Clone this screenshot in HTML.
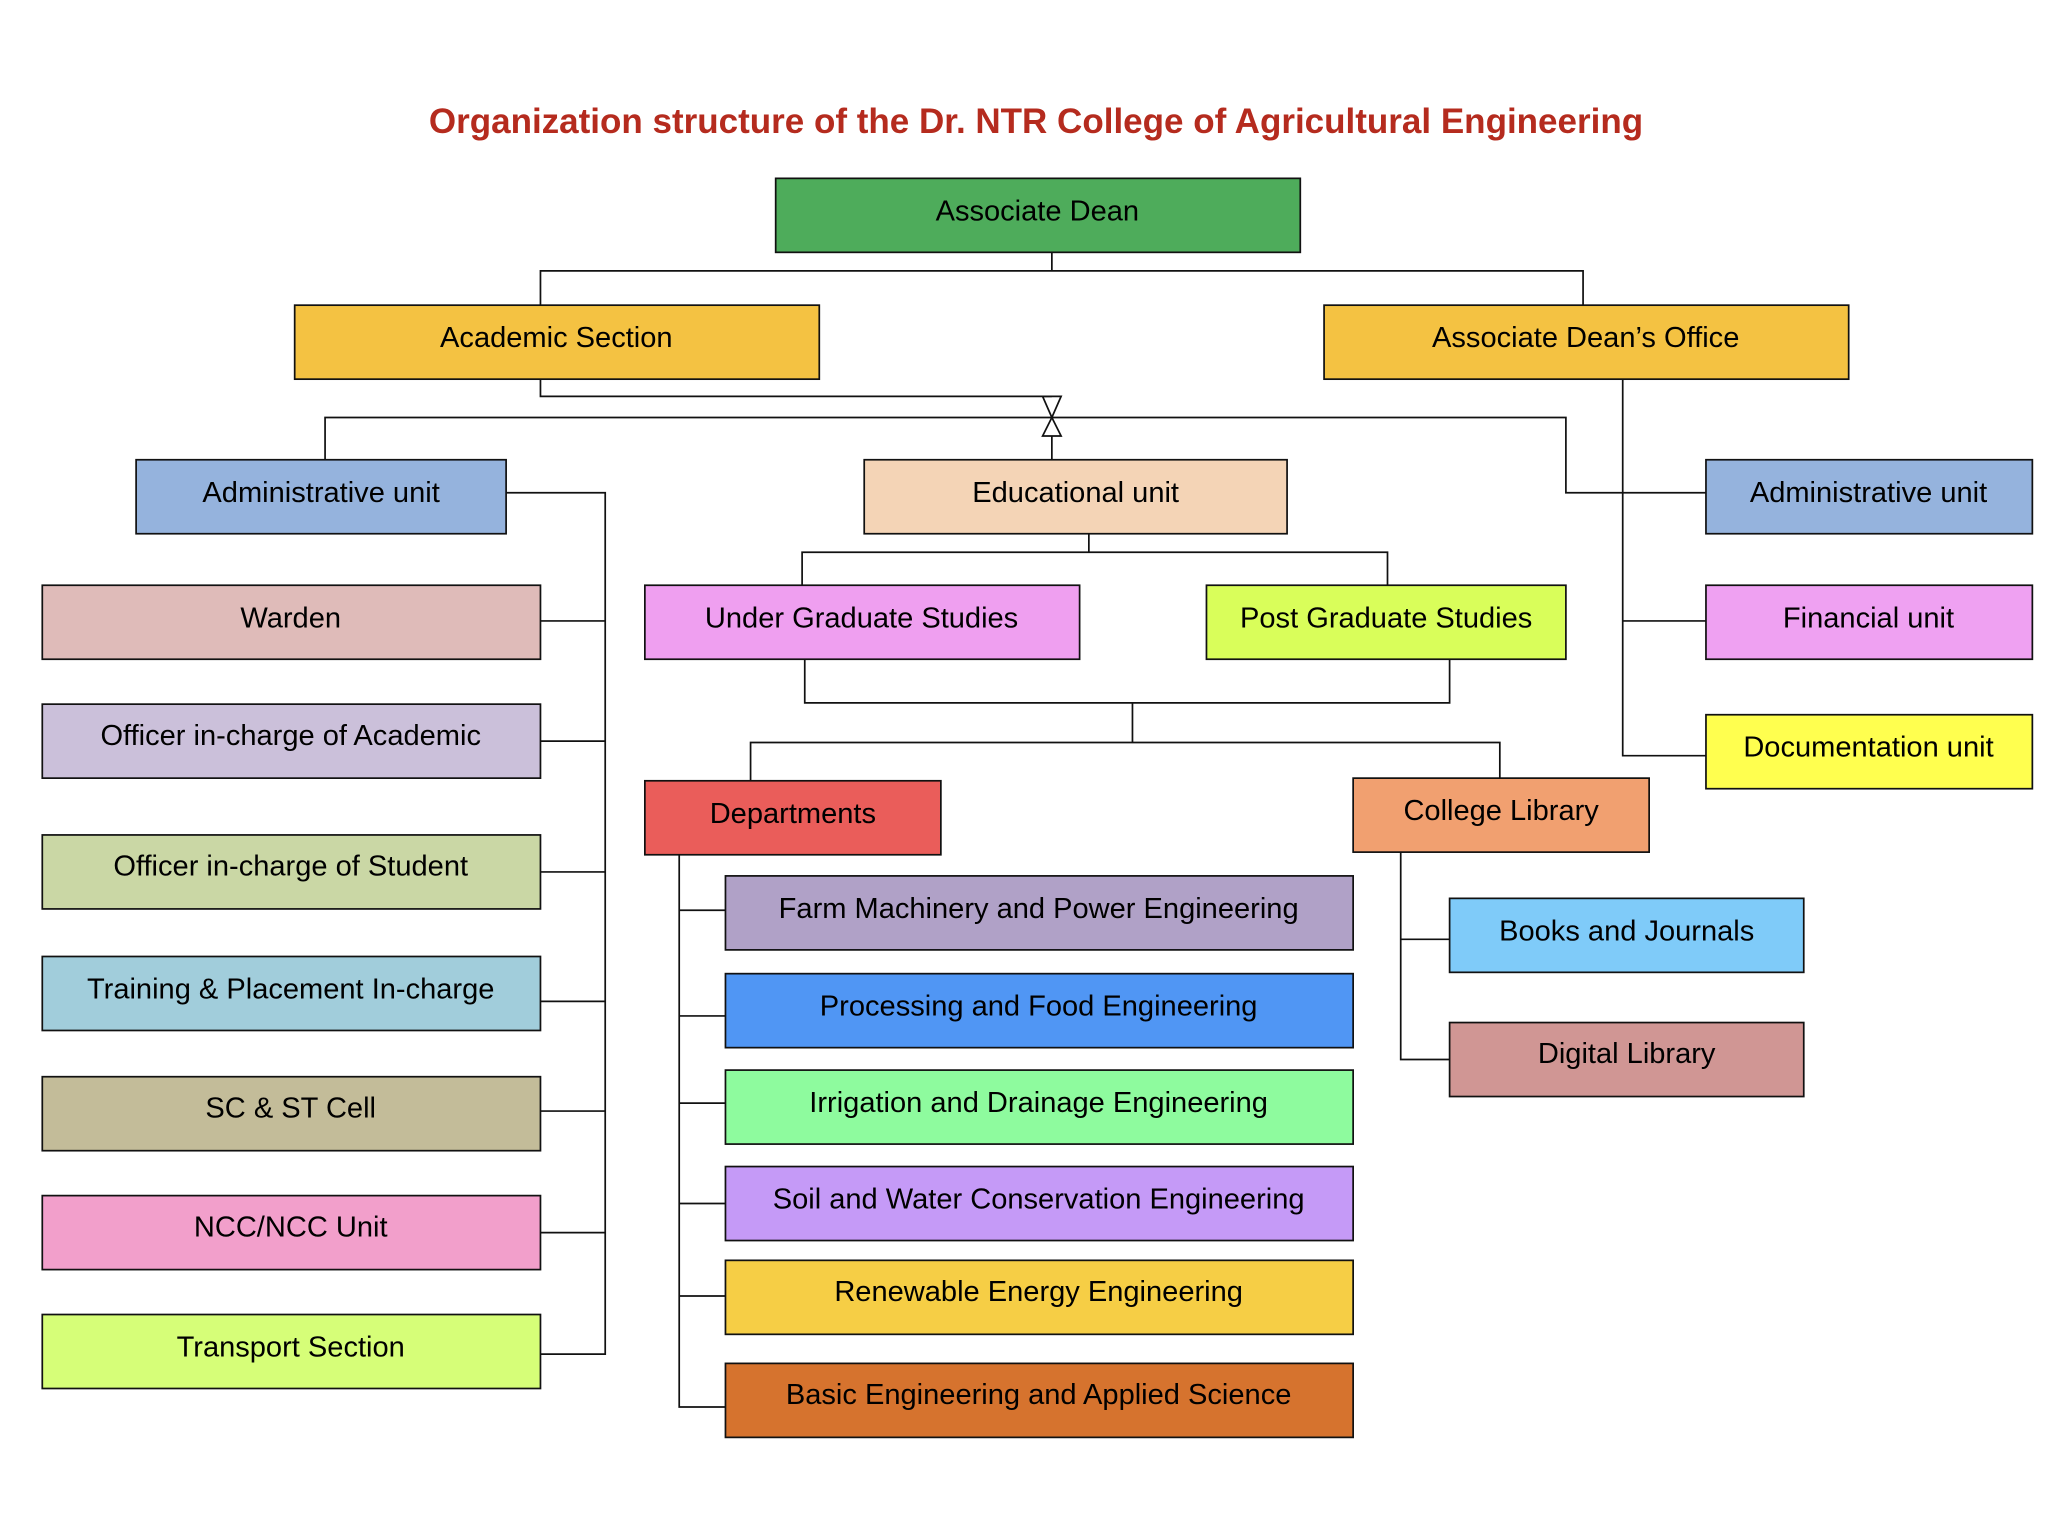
<!DOCTYPE html>
<html><head><meta charset="utf-8"><style>
html,body{margin:0;padding:0;background:#fff;}
svg{display:block;}
text{font-family:"Liberation Sans",sans-serif;font-size:22px;fill:#000;text-anchor:middle;dominant-baseline:central;}
rect{stroke:#111;stroke-width:1.3;}
.l{stroke:#111;stroke-width:1.3;fill:none;}
</style></head><body>
<svg width="2072" height="1514" viewBox="0 0 1568 1146" preserveAspectRatio="none" xmlns="http://www.w3.org/2000/svg">
<text x="784" y="92" style="font-size:26.5px;font-weight:bold;fill:#B52B1E">Organization structure of the Dr. NTR College of Agricultural Engineering</text>
<path class="l" d="M796 191V205M409 231V205H1198V231"/>
<path class="l" d="M409 287V300H796M246 348V316H1185V373H1291"/>
<path class="l" d="M789 300H803L796 316L789 330H803L796 316Z"/>
<path class="l" d="M796 330V348"/>
<path class="l" d="M1228 287V572H1291M1228 470H1291"/>
<path class="l" d="M383 373H458V1025H409M409 470H458M409 561H458M409 660H458M409 758H458M409 841H458M409 933H458"/>
<path class="l" d="M824 404V418M607 443V418H1050V443"/>
<path class="l" d="M609 499V532H1097V499M857 532V562M568 591V562H1135V590"/>
<path class="l" d="M514 647V1065H549M514 689H549M514 769H549M514 835H549M514 911H549M514 981H549"/>
<path class="l" d="M1060 645V802H1097M1060 711H1097"/>
<rect x="587" y="135" width="397" height="56" fill="#4EAC5B"/><text x="785" y="160">Associate Dean</text>
<rect x="223" y="231" width="397" height="56" fill="#F4C242"/><text x="421" y="256">Academic Section</text>
<rect x="1002" y="231" width="397" height="56" fill="#F4C242"/><text x="1200" y="256">Associate Dean’s Office</text>
<rect x="103" y="348" width="280" height="56" fill="#95B3DD"/><text x="243" y="373">Administrative unit</text>
<rect x="654" y="348" width="320" height="56" fill="#F4D4B6"/><text x="814" y="373">Educational unit</text>
<rect x="1291" y="348" width="247" height="56" fill="#95B3DD"/><text x="1414" y="373">Administrative unit</text>
<rect x="1291" y="443" width="247" height="56" fill="#EFA1F2"/><text x="1414" y="468">Financial unit</text>
<rect x="1291" y="541" width="247" height="56" fill="#FFFF4F"/><text x="1414" y="566">Documentation unit</text>
<rect x="32" y="443" width="377" height="56" fill="#DFBBB9"/><text x="220" y="468">Warden</text>
<rect x="32" y="533" width="377" height="56" fill="#CBC0DA"/><text x="220" y="557">Officer in-charge of Academic</text>
<rect x="32" y="632" width="377" height="56" fill="#CAD7A5"/><text x="220" y="656">Officer in-charge of Student</text>
<rect x="32" y="724" width="377" height="56" fill="#A1CDDB"/><text x="220" y="749">Training &amp; Placement In-charge</text>
<rect x="32" y="815" width="377" height="56" fill="#C3BC99"/><text x="220" y="839">SC &amp; ST Cell</text>
<rect x="32" y="905" width="377" height="56" fill="#F29FCB"/><text x="220" y="929">NCC/NCC Unit</text>
<rect x="32" y="995" width="377" height="56" fill="#D6FE78"/><text x="220" y="1020">Transport Section</text>
<rect x="488" y="443" width="329" height="56" fill="#EF9FF0"/><text x="652" y="468">Under Graduate Studies</text>
<rect x="913" y="443" width="272" height="56" fill="#D9FE5A"/><text x="1049" y="468">Post Graduate Studies</text>
<rect x="488" y="591" width="224" height="56" fill="#EA5D5A"/><text x="600" y="616">Departments</text>
<rect x="1024" y="589" width="224" height="56" fill="#F1A070"/><text x="1136" y="614">College Library</text>
<rect x="549" y="663" width="475" height="56" fill="#B0A1C7"/><text x="786" y="688">Farm Machinery and Power Engineering</text>
<rect x="549" y="737" width="475" height="56" fill="#5096F4"/><text x="786" y="762">Processing and Food Engineering</text>
<rect x="549" y="810" width="475" height="56" fill="#8EFB9E"/><text x="786" y="835">Irrigation and Drainage Engineering</text>
<rect x="549" y="883" width="475" height="56" fill="#C59AF7"/><text x="786" y="908">Soil and Water Conservation Engineering</text>
<rect x="549" y="954" width="475" height="56" fill="#F6CE45"/><text x="786" y="978">Renewable Energy Engineering</text>
<rect x="549" y="1032" width="475" height="56" fill="#D6732E"/><text x="786" y="1056">Basic Engineering and Applied Science</text>
<rect x="1097" y="680" width="268" height="56" fill="#7FCBF9"/><text x="1231" y="705">Books and Journals</text>
<rect x="1097" y="774" width="268" height="56" fill="#D09694"/><text x="1231" y="798">Digital Library</text>
</svg>
</body></html>
